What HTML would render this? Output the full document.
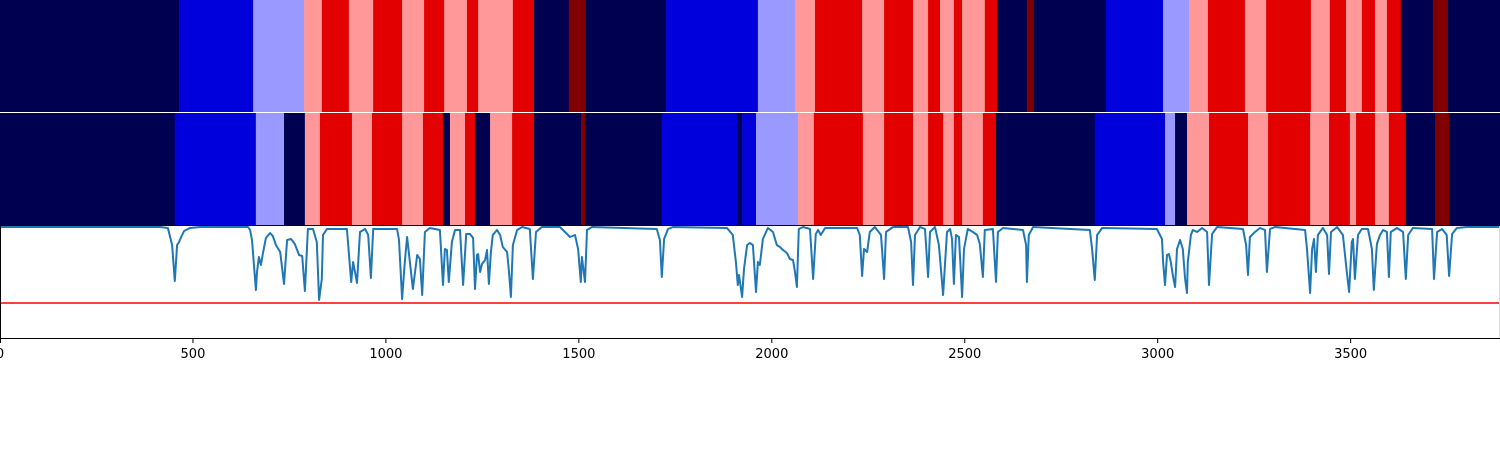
<!DOCTYPE html>
<html><head><meta charset="utf-8"><style>
html,body{margin:0;padding:0;background:#fff;width:1500px;height:450px;overflow:hidden}
svg{display:block}
text{font-family:"DejaVu Sans","Liberation Sans",sans-serif;font-size:13px;fill:#000}
</style></head><body>
<svg id="chart" width="1500" height="450" xmlns="http://www.w3.org/2000/svg">
<g id="row1"></g>
<g id="row2"></g>
<line x1="0" y1="112.5" x2="1500" y2="112.5" stroke="#fff" stroke-width="1"/>
<line x1="0" y1="225.5" x2="1500" y2="225.5" stroke="#000" stroke-width="1"/>
<g id="linepanel"></g>
<g id="xaxis"></g>
</svg>
<script>
// x domain
const xMax = 3887;
// heatmap row 1: segment end positions and level (-3..3)
const row1Ends = [464,656,788,834,904,967,1042,1099,1151,1210,1239,1329,1384,1474,1518,1726,1964,2060,2112,2234,2291,2366,2405,2436,2472,2493,2552,2584,2661,2679,2866,3014,3081,3130,3226,3281,3397,3446,3488,3529,3563,3594,3630,3713,3752,3887];
const row1Levels = [-3,-2,-1,1,2,1,2,1,2,1,2,1,2,-3,3,-3,-2,-1,1,2,1,2,1,2,1,2,1,2,-3,3,-3,-2,-1,1,2,1,2,1,2,1,2,1,2,-3,3,-3];
// heatmap row 2
const row2Ends = [453,663,736,790,829,912,964,1042,1096,1148,1166,1205,1231,1270,1327,1384,1506,1516,1715,1910,1923,1959,2068,2109,2236,2291,2366,2405,2444,2472,2493,2547,2581,2837,3019,3045,3076,3133,3234,3286,3395,3444,3498,3514,3563,3599,3643,3719,3755,3887];
const row2Levels = [-3,-2,-1,-3,1,2,1,2,1,2,-3,1,2,-3,1,2,-3,3,-3,-2,-3,-2,-1,1,2,1,2,1,2,1,2,1,2,-3,-2,-1,-3,1,2,1,2,1,2,1,2,1,2,-3,3,-3];
// signal line
const sigX = [0,415,435,446,453,459,464,466,477,492,518,643,648,653,663,666,671,676,681,689,700,707,715,726,736,744,754,764,775,783,790,798,811,821,827,834,837,847,899,910,915,920,925,933,946,954,961,967,1029,1034,1042,1049,1055,1060,1070,1081,1088,1094,1101,1114,1140,1148,1153,1158,1163,1171,1179,1192,1200,1208,1218,1226,1231,1236,1239,1244,1249,1257,1262,1267,1272,1277,1288,1296,1303,1314,1319,1324,1329,1340,1353,1373,1381,1389,1404,1451,1464,1477,1490,1498,1505,1508,1516,1521,1534,1702,1710,1715,1721,1731,1744,1884,1899,1907,1912,1915,1923,1928,1936,1943,1951,1959,1964,1969,1977,1990,2003,2013,2021,2029,2039,2047,2055,2060,2065,2070,2081,2099,2107,2114,2120,2127,2138,2221,2228,2234,2239,2247,2254,2267,2283,2291,2296,2314,2353,2361,2366,2371,2384,2397,2405,2410,2423,2433,2444,2454,2462,2467,2472,2477,2485,2493,2498,2508,2521,2532,2539,2547,2552,2573,2581,2586,2599,2651,2659,2661,2666,2677,2824,2830,2837,2843,2856,2998,3011,3014,3019,3024,3029,3034,3040,3045,3050,3058,3065,3071,3076,3078,3086,3091,3102,3115,3128,3133,3141,3154,3221,3229,3234,3239,3252,3265,3278,3283,3291,3304,3382,3387,3395,3400,3405,3410,3415,3428,3439,3444,3449,3465,3480,3490,3496,3503,3506,3511,3519,3529,3545,3555,3560,3568,3576,3584,3594,3599,3604,3620,3636,3643,3649,3661,3711,3716,3724,3737,3749,3755,3763,3775,3801,3887];
const sigV = [0,0,-0.01,-0.18,-0.54,-0.18,-0.15,-0.13,-0.04,-0.01,0,0,-0.03,-0.13,-0.63,-0.45,-0.30,-0.38,-0.27,-0.11,-0.06,-0.09,-0.18,-0.25,-0.57,-0.13,-0.12,-0.17,-0.28,-0.29,-0.64,-0.02,-0.02,-0.15,-0.73,-0.52,-0.08,-0.02,-0.02,-0.55,-0.35,-0.45,-0.56,-0.05,-0.02,-0.08,-0.51,-0.02,-0.02,-0.13,-0.72,-0.35,-0.10,-0.28,-0.62,-0.28,-0.32,-0.68,-0.05,-0.01,-0.03,-0.58,-0.22,-0.23,-0.55,-0.15,-0.03,-0.03,-0.58,-0.07,-0.07,-0.11,-0.62,-0.28,-0.27,-0.45,-0.37,-0.33,-0.23,-0.57,-0.25,-0.08,-0.03,-0.08,-0.20,-0.25,-0.45,-0.70,-0.18,-0.03,0,-0.02,-0.52,-0.05,0,0,-0.05,-0.10,-0.08,-0.22,-0.55,-0.30,-0.55,-0.03,0,-0.02,-0.13,-0.50,-0.12,-0.02,0,-0.01,-0.08,-0.35,-0.58,-0.48,-0.70,-0.42,-0.18,-0.16,-0.18,-0.65,-0.35,-0.38,-0.12,-0.01,-0.05,-0.18,-0.20,-0.23,-0.26,-0.32,-0.33,-0.45,-0.60,-0.02,0,-0.02,-0.52,-0.07,-0.03,-0.08,-0.01,-0.01,-0.08,-0.49,-0.22,-0.25,-0.05,0,-0.08,-0.52,-0.05,0,0,-0.15,-0.58,-0.08,0,-0.02,-0.50,-0.05,0,-0.18,-0.68,-0.05,-0.02,-0.12,-0.57,-0.08,-0.10,-0.70,-0.22,-0.02,-0.05,-0.08,-0.17,-0.50,-0.03,-0.02,-0.55,-0.05,-0.01,-0.03,-0.18,-0.55,-0.08,0,-0.03,-0.22,-0.53,-0.08,-0.01,-0.02,-0.12,-0.35,-0.58,-0.28,-0.27,-0.35,-0.50,-0.60,-0.22,-0.13,-0.22,-0.52,-0.66,-0.35,-0.08,-0.03,-0.05,-0.01,-0.05,-0.58,-0.07,0,-0.02,-0.18,-0.48,-0.10,-0.05,-0.01,-0.03,-0.45,-0.02,0,-0.03,-0.22,-0.66,-0.22,-0.12,-0.45,-0.08,-0.01,-0.08,-0.47,-0.05,0,-0.08,-0.45,-0.65,-0.15,-0.12,-0.52,-0.08,-0.02,-0.02,-0.22,-0.63,-0.17,-0.08,-0.03,-0.05,-0.50,-0.05,-0.01,-0.05,-0.52,-0.08,-0.01,-0.02,-0.52,-0.05,-0.02,-0.08,-0.49,-0.07,-0.01,0,0];
const threshold = -0.76;
const xTicks = [0,500,1000,1500,2000,2500,3000,3500];
const levelColors = {"-3":"#000050","-2":"#0000dd","-1":"#9999ff","1":"#ff9999","2":"#e30000","3":"#800000"};

const NS = "http://www.w3.org/2000/svg";
const xS = v => v / xMax * 1500;
const yS = v => 227 - v * 100;

function drawRow(id, ends, levels, y0, h) {
  const g = document.getElementById(id);
  let start = 0;
  for (let i = 0; i < ends.length; i++) {
    const r = document.createElementNS(NS, "rect");
    r.setAttribute("x", xS(start));
    r.setAttribute("y", y0);
    r.setAttribute("width", Math.max(0, xS(ends[i]) - xS(start)) + 0.3);
    r.setAttribute("height", h);
    r.setAttribute("fill", levelColors[String(levels[i])]);
    
    
    g.appendChild(r);
    start = ends[i];
  }
}
drawRow("row1", row1Ends, row1Levels, 0, 112.5);
drawRow("row2", row2Ends, row2Levels, 112.5, 113);

const lp = document.getElementById("linepanel");
const th = document.createElementNS(NS, "line");
th.setAttribute("x1", 0); th.setAttribute("x2", 1500);
th.setAttribute("y1", yS(threshold)); th.setAttribute("y2", yS(threshold));
th.setAttribute("stroke", "#ff0000"); th.setAttribute("stroke-width", "1.5");


lp.appendChild(th);
const pl = document.createElementNS(NS, "polyline");
pl.setAttribute("points", sigX.map((x, i) => xS(x).toFixed(1) + "," + yS(sigV[i]).toFixed(1)).join(" "));
pl.setAttribute("fill", "none");
pl.setAttribute("stroke", "#1f77b4");
pl.setAttribute("stroke-width", "2");
pl.setAttribute("stroke-linejoin", "round");


lp.appendChild(pl);
const rs = document.createElementNS(NS, "line");
rs.setAttribute("x1", 1499.5); rs.setAttribute("x2", 1499.5); rs.setAttribute("y1", 226); rs.setAttribute("y2", 338);
rs.setAttribute("stroke", "#ddd"); rs.setAttribute("stroke-width", "1");


lp.appendChild(rs);
const ls = document.createElementNS(NS, "line");
ls.setAttribute("x1", 0.5); ls.setAttribute("x2", 0.5); ls.setAttribute("y1", 226); ls.setAttribute("y2", 338);
ls.setAttribute("stroke", "#000"); ls.setAttribute("stroke-width", "1");


lp.appendChild(ls);

const xa = document.getElementById("xaxis");
const axl = document.createElementNS(NS, "line");
axl.setAttribute("x1", 0); axl.setAttribute("x2", 1500); axl.setAttribute("y1", 338.5); axl.setAttribute("y2", 338.5);
axl.setAttribute("stroke", "#000"); axl.setAttribute("stroke-width", "1");


xa.appendChild(axl);
xTicks.forEach(t => {
  const tk = document.createElementNS(NS, "line");
  const x = Math.max(0.5, xS(t));
  tk.setAttribute("x1", x); tk.setAttribute("x2", x); tk.setAttribute("y1", 338); tk.setAttribute("y2", 343);
  tk.setAttribute("stroke", "#000"); tk.setAttribute("stroke-width", "1");
  
  
  xa.appendChild(tk);
  const tx = document.createElementNS(NS, "text");
  tx.setAttribute("x", xS(t)); tx.setAttribute("y", 358);
  tx.setAttribute("text-anchor", "middle");
  tx.textContent = t;
  
  
  xa.appendChild(tx);
});
</script>
</body></html>
